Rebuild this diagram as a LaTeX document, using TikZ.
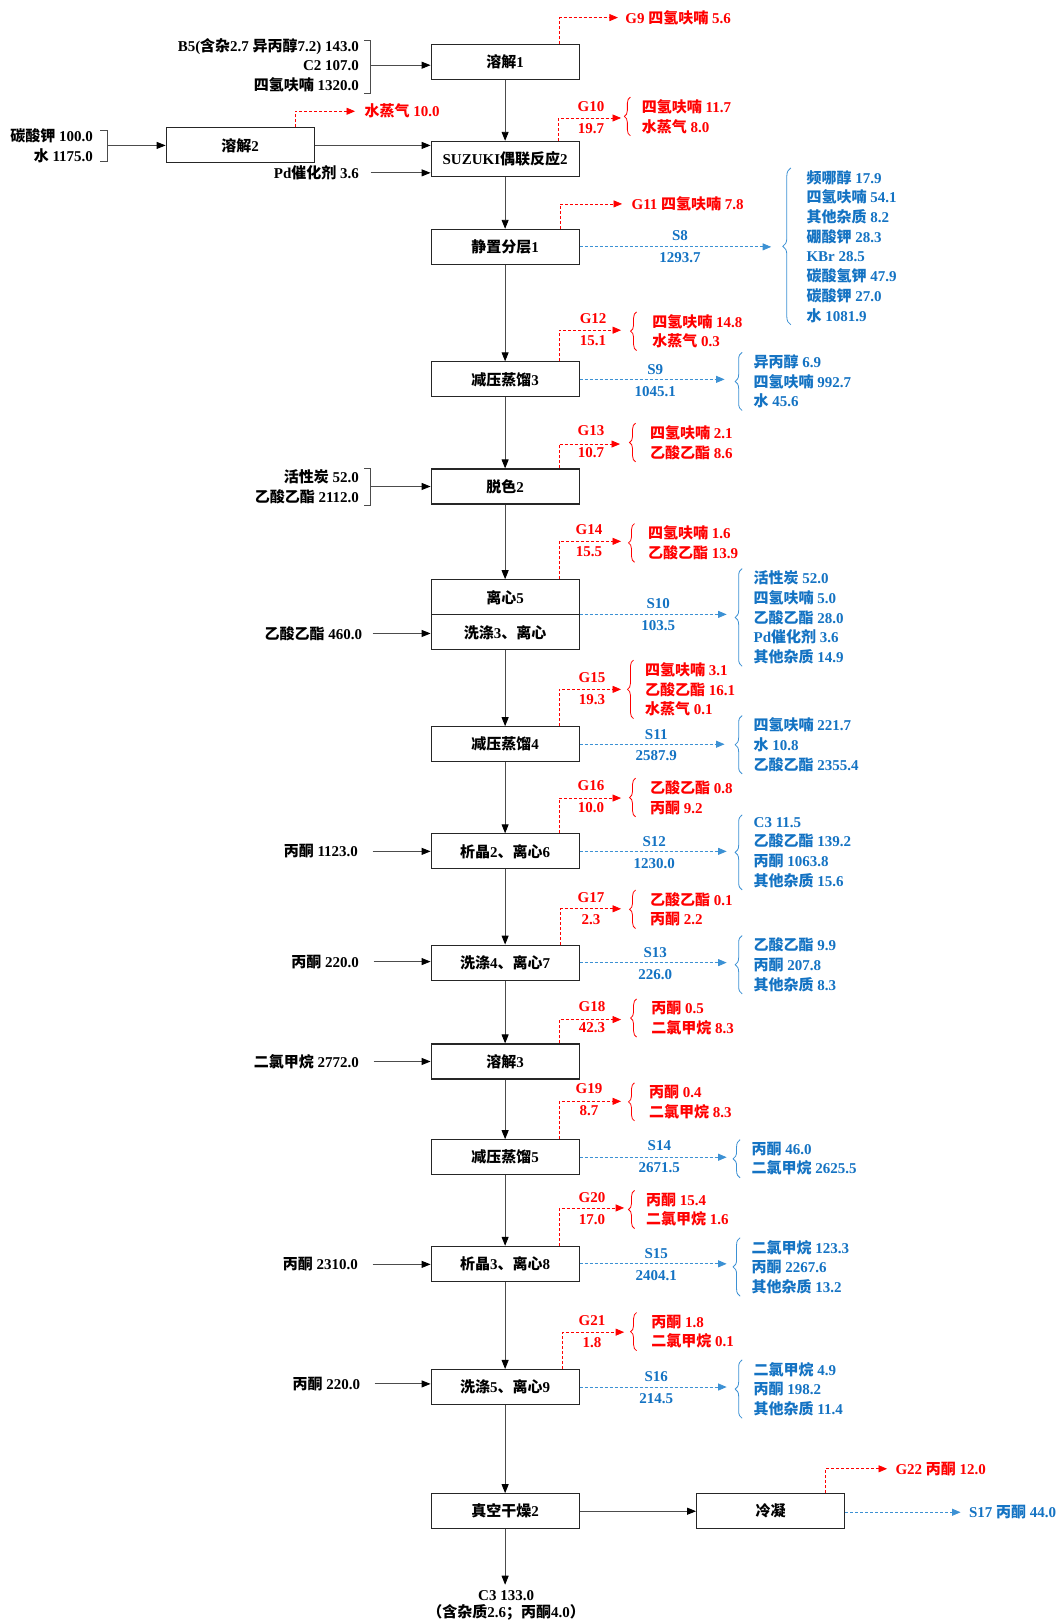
\documentclass[tikz,border=0pt]{standalone}
\usepackage{fontspec}
\setmainfont{Liberation Serif}
\newfontfamily\cjkf{Noto Sans CJK SC}
\usetikzlibrary{arrows.meta,calc,decorations.pathreplacing}
\XeTeXinterchartokenstate=1
\chardef\CJKcls=7
\newcount\cjkc
\cjkc="2E80
\loop
 \XeTeXcharclass\cjkc=\CJKcls
 \advance\cjkc by 1
\ifnum\cjkc<"A000 \repeat
\cjkc="FF00
\loop
 \XeTeXcharclass\cjkc=\CJKcls
 \advance\cjkc by 1
\ifnum\cjkc<"FFF0 \repeat
\XeTeXinterchartoks 0 \CJKcls = {\cjkf}
\XeTeXinterchartoks 4095 \CJKcls = {\cjkf}
\XeTeXinterchartoks \CJKcls 0 = {\rmfamily}
\XeTeXinterchartoks \CJKcls 4095 = {\rmfamily}
\definecolor{gred}{RGB}{255,0,0}
\definecolor{sblue}{RGB}{20,115,195}
\definecolor{lblue}{RGB}{60,145,212}
\newcommand\brc[4]{\draw[#1, line width=0.8pt, decorate, decoration={brace, amplitude=#4}] ($(#2.south west)+(-#3,2)$) -- ($(#2.north west)+(-#3,-2)$);}
\begin{document}
\begin{tikzpicture}[x=1.0352pt,y=-1.0352pt,
 every node/.style={font=\fontsize{15}{19.7}\selectfont\bfseries, inner sep=0pt},
 box/.style={draw=black!85, line width=1.1pt, minimum width=148pt, minimum height=35pt, fill=white},
 arr/.style={draw=black!70, line width=0.9pt, -{Triangle[length=9pt,width=7pt,fill=black,color=black]}},
 gas/.style={draw=gred, dash pattern=on 3pt off 2pt, line width=0.8pt, -{Triangle[length=8.5pt,width=7pt]}},
 liq/.style={draw=lblue, dash pattern=on 3pt off 2pt, line width=0.8pt, -{Triangle[length=8.5pt,width=7pt]}},
 gt/.style={text=gred},
 st/.style={text=sblue},
 lst/.style={anchor=west, align=left},
 inl/.style={anchor=east, align=right},
 brk/.style={draw=black!70, line width=0.8pt}]
\useasboundingbox (0,0) rectangle (1022,1568);
\fill[white] (0,0) rectangle (1022,1568);

% ---------- process boxes ----------
\node[box] (b1) at (488,59.5) {溶解1};
\node[box] (b0) at (232,140.5) {溶解2};
\node[box] (b2) at (488,153.5) {SUZUKI偶联反应2};
\node[box] (b3) at (488,238.5) {静置分层1};
\node[box] (b4) at (488,366.5) {减压蒸馏3};
\node[box] (b5) at (488,470) {脱色2};
\node[box] (b6) at (488,577) {离心5};
\node[box] (b7) at (488,611) {洗涤3、离心};
\node[box] (b8) at (488,719) {减压蒸馏4};
\node[box] (b9) at (488,822.5) {析晶2、离心6};
\node[box] (b10) at (488,930) {洗涤4、离心7};
\node[box] (b11) at (488,1025.5) {溶解3};
\node[box] (b12) at (488,1118) {减压蒸馏5};
\node[box] (b13) at (488,1221) {析晶3、离心8};
\node[box] (b14) at (488,1340) {洗涤5、离心9};
\node[box] (b15) at (488,1460) {真空干燥2};
\node[box] (b16) at (744.5,1460) {冷凝};

% ---------- main flow ----------
\draw[arr] (b1) -- (b2);
\draw[arr] (b2) -- (b3);
\draw[arr] (b3) -- (b4);
\draw[arr] (b4) -- (b5);
\draw[arr] (b5) -- (b6);
\draw[arr] (b7) -- (b8);
\draw[arr] (b8) -- (b9);
\draw[arr] (b9) -- (b10);
\draw[arr] (b10) -- (b11);
\draw[arr] (b11) -- (b12);
\draw[arr] (b12) -- (b13);
\draw[arr] (b13) -- (b14);
\draw[arr] (b14) -- (b15);
\draw[arr] (b15) -- (b16);
\coordinate (c3e) at (488,1531);
\draw[arr] (b15) -- (c3e);
\node[align=center, font=\fontsize{15}{17.6}\selectfont\bfseries] (c3) at (489,1551) {C3 133.0\\（含杂质2.6；丙酮4.0）};

% ---------- inputs ----------
\node[inl] (i1) at (347,63) {B5(含杂2.7 异丙醇7.2) 143.0\\C2 107.0\\四氢呋喃 1320.0};
\draw[brk] (352,39) -- (358,39) -- (358,90) -- (352,90);
\coordinate (k1) at (358,63);
\draw[arr] (k1) -- (k1 -| b1.west);

\node[inl] (i0) at (90,140.5) {碳酸钾 100.0\\水 1175.0};
\draw[brk] (97,126) -- (104,126) -- (104,156) -- (97,156);
\coordinate (k0) at (104,140.5);
\draw[arr] (k0) -- (k0 -| b0.west);
\draw[arr] (b0.east) -- (b0.east -| b2.west);

\node[anchor=east] (pd) at (347,167) {Pd催化剂 3.6};
\draw[arr] ($(pd.east)+(11,0)$) -- (b2.west |- pd.east);

\node[inl] (i5) at (347,470) {活性炭 52.0\\乙酸乙酯 2112.0};
\draw[brk] (352,453) -- (358,453) -- (358,488) -- (352,488);
\coordinate (k5) at (358,470);
\draw[arr] (k5) -- (k5 -| b5.west);

\node[anchor=east] (i7) at (350,612) {乙酸乙酯 460.0};
\draw[arr] ($(i7.east)+(10,0)$) -- (b7.west |- i7.east);
\node[anchor=east] (i9) at (346,822.5) {丙酮 1123.0};
\draw[arr] ($(i9.east)+(14,0)$) -- (b9.west |- i9.east);
\node[anchor=east] (i10) at (347,929) {丙酮 220.0};
\draw[arr] ($(i10.east)+(14,0)$) -- (b10.west |- i10.east);
\node[anchor=east] (i11) at (347,1025.5) {二氯甲烷 2772.0};
\draw[arr] ($(i11.east)+(14,0)$) -- (b11.west |- i11.east);
\node[anchor=east] (i13) at (346,1221.5) {丙酮 2310.0};
\draw[arr] ($(i13.east)+(14,0)$) -- (b13.west |- i13.east);
\node[anchor=east] (i14) at (348,1337) {丙酮 220.0};
\draw[arr] ($(i14.east)+(14,0)$) -- (b14.west |- i14.east);

% ---------- single gas / liquid outputs ----------
\node[gt,anchor=west] (g9) at (604,17) {G9 四氢呋喃 5.6};
\coordinate (g9e) at (597,17);
\draw[gas] ($(b1.north east)+(-19.5,0)$) |- (g9e);

\node[gt,anchor=west] (w0) at (352,107.5) {水蒸气 10.0};
\coordinate (w0e) at (343,107.5);
\draw[gas] ($(b0.north east)+(-18.5,0)$) |- (w0e);

\node[gt,anchor=west] (g11) at (610,197) {G11 四氢呋喃 7.8};
\coordinate (g11e) at (601,197);
\draw[gas] ($(b3.north east)+(-19,0)$) |- (g11e);

\node[gt,anchor=west] (g22) at (865,1419) {G22 丙酮 12.0};
\coordinate (g22e) at (857,1419);
\draw[gas] ($(b16.north east)+(-19,0)$) |- (g22e);

\node[st,anchor=west] (s17) at (936,1461) {S17 丙酮 44.0};
\coordinate (s17e) at (928,1461);
\draw[liq] (b16.east |- s17e) -- (s17e);

% ---------- gas groups ----------
\node[gt,lst] (g10) at (620,112.5) {四氢呋喃 11.7\\水蒸气 8.0};
\node[gt] (g10n) at (571,103) {G10};
\node[gt] (g10m) at (571,124) {19.7};
\coordinate (g10e) at (600,114);
\draw[gas] ($(b2.north east)+(-20.5,0)$) |- (g10e);
\brc{gred}{g10}{11}{6pt}

\node[gt,lst] (g12) at (630,320) {四氢呋喃 14.8\\水蒸气 0.3};
\node[gt] (g12n) at (573,308) {G12};
\node[gt] (g12m) at (573,329) {15.1};
\coordinate (g12e) at (600,319);
\draw[gas] ($(b4.north east)+(-19.5,0)$) |- (g12e);
\brc{gred}{g12}{15}{6pt}

\node[gt,lst] (g13) at (628,427.5) {四氢呋喃 2.1\\乙酸乙酯 8.6};
\node[gt] (g13n) at (571,416) {G13};
\node[gt] (g13m) at (571,437) {10.7};
\coordinate (g13e) at (599,429);
\draw[gas] ($(b5.north east)+(-20,0)$) |- (g13e);
\brc{gred}{g13}{14}{6pt}

\node[gt,lst] (g14) at (626,524.5) {四氢呋喃 1.6\\乙酸乙酯 13.9};
\node[gt] (g14n) at (569,512) {G14};
\node[gt] (g14m) at (569,533) {15.5};
\coordinate (g14e) at (600,523);
\draw[gas] ($(b6.north east)+(-20,0)$) |- (g14e);
\brc{gred}{g14}{13}{6pt}

\node[gt,lst] (g15) at (623,666) {四氢呋喃 3.1\\乙酸乙酯 16.1\\水蒸气 0.1};
\node[gt] (g15n) at (572,655) {G15};
\node[gt] (g15m) at (572,676) {19.3};
\coordinate (g15e) at (600,666);
\draw[gas] ($(b8.north east)+(-20,0)$) |- (g15e);
\brc{gred}{g15}{11}{6pt}

\node[gt,lst] (g16) at (628,770.5) {乙酸乙酯 0.8\\丙酮 9.2};
\node[gt] (g16n) at (571,759) {G16};
\node[gt] (g16m) at (571,780) {10.0};
\coordinate (g16e) at (600,771);
\draw[gas] ($(b9.north east)+(-19.5,0)$) |- (g16e);
\brc{gred}{g16}{14}{6pt}

\node[gt,lst] (g17) at (628,878.5) {乙酸乙酯 0.1\\丙酮 2.2};
\node[gt] (g17n) at (571,867) {G17};
\node[gt] (g17m) at (571,888) {2.3};
\coordinate (g17e) at (600,878);
\draw[gas] ($(b10.north east)+(-18.5,0)$) |- (g17e);
\brc{gred}{g17}{14}{6pt}

\node[gt,lst] (g18) at (629,983.5) {丙酮 0.5\\二氯甲烷 8.3};
\node[gt] (g18n) at (572,972) {G18};
\node[gt] (g18m) at (572,993) {42.3};
\coordinate (g18e) at (600,985);
\draw[gas] ($(b11.north east)+(-19.5,0)$) |- (g18e);
\brc{gred}{g18}{14}{6pt}

\node[gt,lst] (g19) at (627,1064.5) {丙酮 0.4\\二氯甲烷 8.3};
\node[gt] (g19n) at (569,1052) {G19};
\node[gt] (g19m) at (569,1073) {8.7};
\coordinate (g19e) at (600,1064);
\draw[gas] ($(b12.north east)+(-19.5,0)$) |- (g19e);
\brc{gred}{g19}{14}{6pt}

\node[gt,lst] (g20) at (624,1168.5) {丙酮 15.4\\二氯甲烷 1.6};
\node[gt] (g20n) at (572,1157) {G20};
\node[gt] (g20m) at (572,1178) {17.0};
\coordinate (g20e) at (603,1167);
\draw[gas] ($(b13.north east)+(-19.5,0)$) |- (g20e);
\brc{gred}{g20}{11}{6pt}

\node[gt,lst] (g21) at (629,1286.5) {丙酮 1.8\\二氯甲烷 0.1};
\node[gt] (g21n) at (572,1276) {G21};
\node[gt] (g21m) at (572,1297) {1.8};
\coordinate (g21e) at (603,1287);
\draw[gas] ($(b14.north east)+(-16.5,0)$) |- (g21e);
\brc{gred}{g21}{14}{6pt}

% ---------- liquid groups ----------
\node[st,lst] (s8) at (779,238) {频哪醇 17.9\\四氢呋喃 54.1\\其他杂质 8.2\\硼酸钾 28.3\\KBr 28.5\\碳酸氢钾 47.9\\碳酸钾 27.0\\水 1081.9};
\node[st] (s8n) at (657,228) {S8};
\node[st] (s8m) at (657,249) {1293.7};
\coordinate (s8e) at (745,0);
\draw[liq] (b3.east) -- (b3.east -| s8e);
\brc{lblue}{s8}{15}{8pt}

\node[st,lst] (s9) at (728,368.5) {异丙醇 6.9\\四氢呋喃 992.7\\水 45.6};
\node[st] (s9n) at (633,357) {S9};
\node[st] (s9m) at (633,378) {1045.1};
\coordinate (s9e) at (700,0);
\draw[liq] (b4.east) -- (b4.east -| s9e);
\brc{lblue}{s9}{11}{7pt}

\node[st,lst] (s10) at (728,596.5) {活性炭 52.0\\四氢呋喃 5.0\\乙酸乙酯 28.0\\Pd催化剂 3.6\\其他杂质 14.9};
\node[st] (s10n) at (636,583) {S10};
\node[st] (s10m) at (636,604) {103.5};
\coordinate (s10e) at (702,0);
\draw[liq] (b7.north east) -- (b7.north east -| s10e);
\brc{lblue}{s10}{11}{7pt}

\node[st,lst] (s11) at (728,719.5) {四氢呋喃 221.7\\水 10.8\\乙酸乙酯 2355.4};
\node[st] (s11n) at (634,710) {S11};
\node[st] (s11m) at (634,730) {2587.9};
\coordinate (s11e) at (700,0);
\draw[liq] (b8.east) -- (b8.east -| s11e);
\brc{lblue}{s11}{11}{7pt}

\node[st,lst] (s12) at (728,823.5) {C3 11.5\\乙酸乙酯 139.2\\丙酮 1063.8\\其他杂质 15.6};
\node[st] (s12n) at (632,813) {S12};
\node[st] (s12m) at (632,834) {1230.0};
\coordinate (s12e) at (702,0);
\draw[liq] (b9.east) -- (b9.east -| s12e);
\brc{lblue}{s12}{11}{7pt}

\node[st,lst] (s13) at (728,932) {乙酸乙酯 9.9\\丙酮 207.8\\其他杂质 8.3};
\node[st] (s13n) at (633,920) {S13};
\node[st] (s13m) at (633,942) {226.0};
\coordinate (s13e) at (702,0);
\draw[liq] (b10.east) -- (b10.east -| s13e);
\brc{lblue}{s13}{11}{7pt}

\node[st,lst] (s14) at (726,1119.5) {丙酮 46.0\\二氯甲烷 2625.5};
\node[st] (s14n) at (637,1107) {S14};
\node[st] (s14m) at (637,1128) {2671.5};
\coordinate (s14e) at (702,0);
\draw[liq] (b12.east) -- (b12.east -| s14e);
\brc{lblue}{s14}{11}{7pt}

\node[st,lst] (s15) at (726,1224) {二氯甲烷 123.3\\丙酮 2267.6\\其他杂质 13.2};
\node[st] (s15n) at (634,1211) {S15};
\node[st] (s15m) at (634,1232) {2404.1};
\coordinate (s15e) at (702,0);
\draw[liq] (b13.east) -- (b13.east -| s15e);
\brc{lblue}{s15}{11}{7pt}

\node[st,lst] (s16) at (728,1342) {二氯甲烷 4.9\\丙酮 198.2\\其他杂质 11.4};
\node[st] (s16n) at (634,1330) {S16};
\node[st] (s16m) at (634,1351) {214.5};
\coordinate (s16e) at (702,0);
\draw[liq] (b14.east) -- (b14.east -| s16e);
\brc{lblue}{s16}{11}{7pt}
\end{tikzpicture}
\end{document}
